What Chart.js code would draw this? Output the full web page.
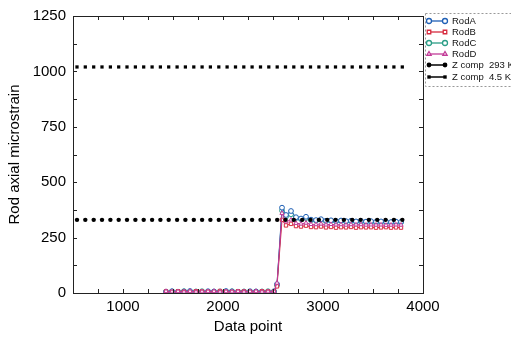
<!DOCTYPE html>
<html>
<head>
<meta charset="utf-8">
<script src="https://cdn.jsdelivr.net/npm/chart.js@4.4.1/dist/chart.umd.min.js"></script>
<style>
  html, body { margin: 0; padding: 0; background: #fff; }
  #wrap { width: 511px; height: 339px; position: relative; }
</style>
</head>
<body>
<div id="wrap"><canvas id="chart"></canvas></div>
<script>
// rod gauges: x positions (data point index) shared by all four rods
const rodX = [
  1430, 1490, 1550, 1610, 1670, 1730, 1790, 1850, 1910, 1970,
  2030, 2090, 2150, 2210, 2270, 2330, 2390, 2450, 2510,
  2540, 2590, 2630, 2680, 2730, 2780, 2830, 2880, 2930, 2980,
  3030, 3080, 3130, 3180, 3230, 3280, 3330, 3380, 3430, 3480,
  3530, 3580, 3630, 3680, 3730, 3780
];
const rodA = [
  6, 8, 5, 7, 9, 6, 5, 8, 7, 6, 9, 7, 5, 6, 8, 7, 6, 5, 8,
  40, 385, 352, 370, 342, 336, 344, 331, 329, 333,
  326, 328, 325, 327, 324, 326, 323, 325, 322, 324,
  321, 323, 322, 320, 322, 321
];
const rodB = [
  7, 5, 8, 6, 5, 8, 7, 6, 5, 9, 6, 5, 8, 7, 6, 5, 8, 7, 6,
  30, 330, 305, 312, 302, 300, 304, 298, 297, 300,
  296, 298, 295, 297, 296, 298, 295, 297, 296, 297,
  295, 296, 297, 295, 296, 295
];
const rodC = [
  5, 7, 6, 8, 6, 7, 8, 5, 6, 7, 5, 8, 6, 7, 5, 6, 7, 8, 5,
  35, 372, 345, 355, 338, 333, 338, 328, 326, 330,
  324, 326, 323, 325, 322, 324, 321, 323, 320, 322,
  319, 321, 320, 318, 320, 319
];
const rodD = [
  8, 6, 7, 5, 8, 5, 6, 7, 8, 5, 7, 6, 7, 5, 7, 8, 5, 6, 7,
  45, 360, 322, 330, 315, 312, 316, 310, 309, 312,
  308, 310, 308, 309, 307, 309, 308, 309, 307, 308,
  307, 308, 306, 307, 308, 307
];

// Z component reference lines
const zX = [
  540, 623, 707, 790, 874, 957, 1040, 1124, 1207, 1291,
  1374, 1457, 1541, 1624, 1708, 1791, 1874, 1958, 2041, 2125,
  2208, 2291, 2375, 2458, 2542, 2625, 2708, 2792, 2875, 2959,
  3042, 3125, 3209, 3292, 3376, 3459, 3542, 3626, 3709, 3793
];
const z293 = [
  330, 330, 330, 330, 330, 330, 330, 330, 330, 330,
  330, 330, 330, 330, 330, 330, 330, 330, 330, 330,
  330, 330, 330, 330, 330, 330, 330, 330, 330, 330,
  330, 330, 330, 330, 330, 330, 330, 330, 330, 330
];
const z45 = [
  1020, 1020, 1020, 1020, 1020, 1020, 1020, 1020, 1020, 1020,
  1020, 1020, 1020, 1020, 1020, 1020, 1020, 1020, 1020, 1020,
  1020, 1020, 1020, 1020, 1020, 1020, 1020, 1020, 1020, 1020,
  1020, 1020, 1020, 1020, 1020, 1020, 1020, 1020, 1020, 1020
];

const seriesNames = ['RodA', 'RodB', 'RodC', 'RodD', 'Z comp  293 K', 'Z comp  4.5 K'];

const FONT = "'Liberation Sans', Arial, Helvetica, sans-serif";

function pts(xs, ys) {
  return xs.map((x, i) => ({ x: x, y: ys[i] }));
}

function rodSet(label, data, color, style, order) {
  return {
    label: label,
    data: data,
    showLine: true,
    borderColor: color,
    backgroundColor: '#ffffff',
    borderWidth: 1,
    pointStyle: style,
    pointRadius: 2.4,
    pointBorderWidth: 1,
    pointBorderColor: color,
    pointBackgroundColor: '#ffffff',
    order: order
  };
}

function zSet(label, data, style, r, order) {
  return {
    label: label,
    data: data,
    showLine: false,
    borderColor: '#000',
    backgroundColor: '#000',
    pointStyle: style,
    pointRadius: r,
    pointBorderWidth: 0,
    pointBackgroundColor: '#000',
    order: order
  };
}

// frame with inward ticks on all four sides
const frameTicks = {
  id: 'frameTicks',
  afterDatasetsDraw(chart) {
    const { ctx, chartArea: a, scales } = chart;
    ctx.save();
    ctx.strokeStyle = '#222';
    ctx.lineWidth = 1;
    ctx.strokeRect(a.left + 0.5, a.top + 0.5, a.right - a.left, a.bottom - a.top);
    ctx.beginPath();
    scales.x.ticks.forEach(t => {
      const px = Math.round(scales.x.getPixelForValue(t.value)) + 0.5;
      ctx.moveTo(px, a.bottom); ctx.lineTo(px, a.bottom - 4);
      ctx.moveTo(px, a.top); ctx.lineTo(px, a.top + 4);
    });
    scales.y.ticks.forEach(t => {
      const py = Math.round(scales.y.getPixelForValue(t.value)) + 0.5;
      ctx.moveTo(a.left, py); ctx.lineTo(a.left + 4, py);
      ctx.moveTo(a.right, py); ctx.lineTo(a.right - 4, py);
    });
    ctx.stroke();
    ctx.restore();
  }
};

// legend box to the right of the plot (cut by the page edge)
const sideLegend = {
  id: 'sideLegend',
  afterDraw(chart) {
    const { ctx, chartArea: a } = chart;
    const x0 = a.right + 2, y0 = 13, h = 73;
    ctx.save();
    ctx.strokeStyle = '#999';
    ctx.lineWidth = 1;
    ctx.setLineDash([2, 2]);
    ctx.strokeRect(x0 + 0.5, y0 + 0.5, 200, h);
    ctx.setLineDash([]);
    const rows = [21, 32, 43, 54, 65, 77];
    chart.data.datasets.forEach((ds, i) => {
      const y = rows[i];
      const c = ds.borderColor;
      ctx.strokeStyle = c;
      ctx.lineWidth = i >= 4 ? 1.5 : 1.3;
      ctx.beginPath();
      ctx.moveTo(x0 + 4, y); ctx.lineTo(x0 + 20, y);
      ctx.stroke();
      [x0 + 4, x0 + 20].forEach(px => {
        ctx.fillStyle = ds.pointBackgroundColor;
        ctx.strokeStyle = c;
        ctx.lineWidth = 1.3;
        Chart.helpers.drawPoint(ctx, {
          pointStyle: ds.pointStyle,
          radius: i >= 4 ? 2.4 : 2.5,
          borderWidth: i >= 4 ? 0 : 1.3,
          rotation: 0
        }, px, y);
      });
      ctx.fillStyle = '#111';
      ctx.font = '9.5px ' + FONT;
      ctx.textBaseline = 'middle';
      ctx.fillText(ds.label, x0 + 27, y + 0.5);
    });
    ctx.restore();
  }
};

new Chart(document.getElementById('chart'), {
  type: 'scatter',
  data: {
    datasets: [
      rodSet(seriesNames[0], pts(rodX, rodA), '#1e5fb5', 'circle', 4),
      rodSet(seriesNames[1], pts(rodX, rodB), '#d62a3e', 'rect', 3),
      rodSet(seriesNames[2], pts(rodX, rodC), '#2a9d86', 'circle', 5),
      rodSet(seriesNames[3], pts(rodX, rodD), '#c23c98', 'triangle', 2),
      zSet(seriesNames[4], pts(zX, z293), 'circle', 2.2, 1),
      zSet(seriesNames[5], pts(zX, z45), 'rect', 2.3, 0)
    ]
  },
  options: {
    responsive: true,
    maintainAspectRatio: false,
    animation: false,
    layout: { padding: { top: 15, right: 88, left: 0, bottom: 0 } },
    plugins: {
      legend: { display: false },
      tooltip: { enabled: false }
    },
    scales: {
      x: {
        type: 'linear',
        min: 500,
        max: 4000,
        grid: { display: false, drawTicks: false },
        border: { display: false },
        ticks: {
          stepSize: 250,
          autoSkip: false,
          maxRotation: 0,
          padding: 5,
          color: '#000',
          font: { family: FONT, size: 15 },
          callback: v => (v % 1000 === 0 ? v : '')
        },
        title: {
          display: true,
          text: 'Data point',
          color: '#000',
          font: { family: FONT, size: 15 },
          padding: { top: 0, bottom: 3 }
        },
        afterFit(scale) { scale.height = 46; }
      },
      y: {
        min: 0,
        max: 1250,
        grid: { display: false, drawTicks: false },
        border: { display: false },
        ticks: {
          stepSize: 125,
          autoSkip: false,
          padding: 7,
          color: '#000',
          font: { family: FONT, size: 15 },
          callback: v => (v % 250 === 0 ? v : '')
        },
        title: {
          display: true,
          text: 'Rod axial microstrain',
          color: '#000',
          font: { family: FONT, size: 15 },
          padding: { top: 6, bottom: 0 }
        },
        afterFit(scale) { scale.width = 73; }
      }
    }
  },
  plugins: [frameTicks, sideLegend]
});
</script>
</body>
</html>
